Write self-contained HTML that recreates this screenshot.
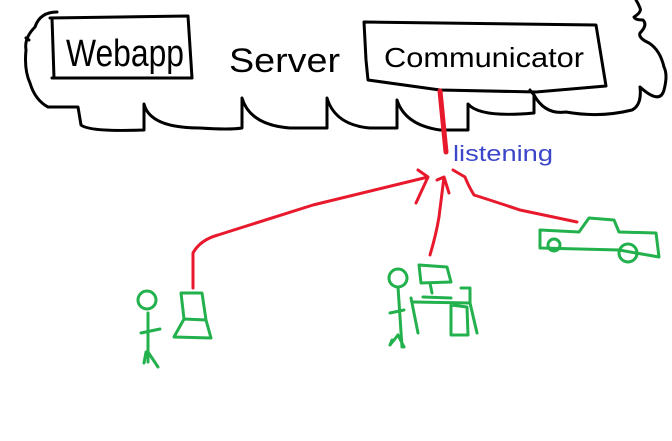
<!DOCTYPE html>
<html><head><style>html,body{margin:0;padding:0;background:#fff}svg{display:block}</style></head>
<body>
<svg width="672" height="441" viewBox="0 0 672 441" xmlns="http://www.w3.org/2000/svg" fill="none" stroke-linecap="round" stroke-linejoin="round">
<g stroke="#000" stroke-width="3">
<path d="M57,12 Q40,12 35,27 Q24,38 26,50 Q24,70 30,83 Q35,100 48,107 L78,107 L81,125 Q90,132 144,130 L144,104 Q150,128 200,128 Q230,130 242,128 L242,98 Q250,125 290,128 L327,128 L327,98 Q335,125 370,128 L397,128 L397,100 Q405,125 440,130 L468,130 L468,104 Q480,118 534,113 L534,95 Q545,115 566,112 Q600,118 632,110 Q642,105 640,87 Q660,105 664,90 Q668,75 664,67 Q660,50 649,43 Q638,38 640,33 Q648,25 643,20 Q635,20 634,17 Q642,12 640,8 Q638,3 636,0"/>
<path d="M534,95 L530,90"/>
<path d="M26,38 L29,40"/>
<path d="M50,18 L188,16 L192,78 L52,78"/>
<path d="M52,18 L54,78"/>
<path d="M364,22 L596,25 L606,86 L536,92 L440,90 L368,80 L366,60 Z"/>
</g>
<g font-family="'Liberation Sans',sans-serif" fill="#000">
<text x="66" y="66" font-size="38" textLength="118" lengthAdjust="spacingAndGlyphs">Webapp</text>
<text x="229" y="72" font-size="34" textLength="111" lengthAdjust="spacingAndGlyphs">Server</text>
<text x="384" y="67" font-size="28" textLength="200" lengthAdjust="spacingAndGlyphs">Communicator</text>
</g>
<g stroke="#e8192c" stroke-width="3">
<path d="M440,91 L446,152" stroke-width="5"/>
<path d="M193,288 L193,253 Q200,240 218,235 L313,205 L428,177 M418,170 L428,177 L416,203"/>
<path d="M430,255 Q436,235 439,217 L444,177 M437,180 L444,177 L449,193"/>
<path d="M577,222 L520,210 Q490,200 474,195 Q468,185 465,177 L453,170"/>
</g>
<text x="453" y="161" font-family="'Liberation Sans',sans-serif" font-size="22" fill="#3b46c8" textLength="100" lengthAdjust="spacingAndGlyphs">listening</text>
<g stroke="#22b14c" stroke-width="3">
<circle cx="147" cy="300" r="9"/>
<path d="M148,313 L148,362 M141,333 L160,329 M146,352 L144,363 M148,352 L158,367"/>
<path d="M181,293 L202,293 L206,320 L211,338 L174,337 L184,319 L206,320 M184,319 L181,293"/>
<circle cx="398" cy="278" r="9"/>
<path d="M398,287 L402,347 M390,313 L404,310 M392,340 L390,345 M398,335 L390,345 M398,335 L404,347"/>
<path d="M419,265 L447,267 L451,282 L421,283 Z M430,283 L432,293 M423,297 L451,298 M414,302 L470,303 M461,288 L470,288 L470,303 L477,333 M411,298 L418,333 M451,305 L467,307 L468,335 L451,335 Z"/>
<path d="M540,230 L540,248 L619,250 L659,257 L656,233 L619,232 L614,220 L589,218 L579,232 L540,230"/>
<circle cx="554" cy="245" r="6"/>
<circle cx="628" cy="253" r="9"/>
</g>
</svg>
</body></html>
